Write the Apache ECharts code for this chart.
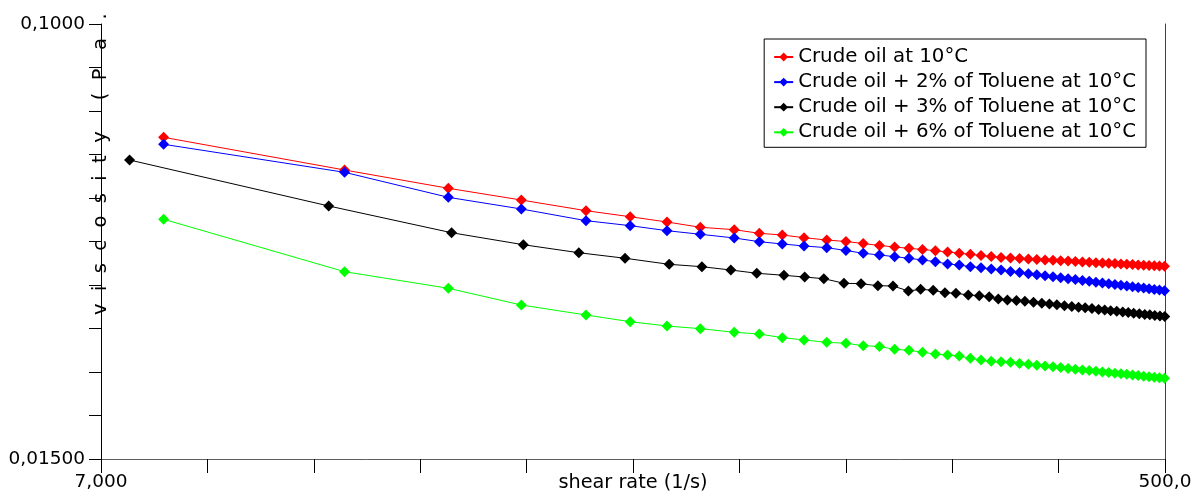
<!DOCTYPE html>
<html>
<head>
<meta charset="utf-8">
<script src="https://cdn.jsdelivr.net/npm/echarts@6/dist/echarts.min.js"></script>
<style>
html,body{margin:0;padding:0;background:#fff;}
#chart{width:1201px;height:495px;}
</style>
</head>
<body>
<div id="chart"></div>
<script>
// ---- data ----
const seriesNames = [
  'Crude oil at 10°C',
  'Crude oil + 2% of Toluene at 10°C',
  'Crude oil + 3% of Toluene at 10°C',
  'Crude oil + 6% of Toluene at 10°C'
];
const seriesColors = ['#ff0000', '#0000ff', '#000000', '#00ff00'];

// shear rate (1/s) for the 0%, 2% and 6% runs
const shearRate = [9, 18.6, 28.2, 37.8, 49, 58.5, 67.8, 77.5, 88.8, 98.2, 107.7, 117.5, 128.7,
  139, 149, 159, 169, 179, 189, 199, 209, 219, 229, 239, 249, 259, 269, 279, 289, 299,
  309, 319, 329, 339, 349, 359, 369, 379, 389, 399, 409, 419, 429, 439, 449, 459, 469, 479, 489, 499];

// shear rate (1/s) for the 3% run
const shearRate3 = [7.85, 17.45, 28.57, 38.1, 47.6, 57.3, 68.4, 78.0, 87.6, 97.2, 108.4, 117.8, 127.2,
  137.9, 147.7, 158.0, 167.9, 178.6, 187.6, 197.3, 206.8, 216.1, 227.1, 237.3, 247.0, 256.2, 265.7,
  275.5, 285, 295, 305, 314.5, 324, 334, 344, 353.5, 363, 373, 383, 392.5, 402, 412, 422, 431.5,
  441, 451, 461, 470.5, 480, 490, 499.5];

// viscosity (Pa.s)
const viscCrude = [0.06101, 0.05290, 0.04885, 0.04641, 0.04430, 0.04315, 0.04217, 0.04121, 0.04078, 0.04014,
  0.03984, 0.03938, 0.03898, 0.03873, 0.03839, 0.03806, 0.03781, 0.03760, 0.03740, 0.03721,
  0.03700, 0.03679, 0.03663, 0.03644, 0.03628, 0.03612, 0.03604, 0.03596, 0.03588, 0.03582,
  0.03574, 0.03568, 0.03562, 0.03556, 0.03549, 0.03543, 0.03539, 0.03532, 0.03526, 0.03522,
  0.03517, 0.03511, 0.03506, 0.03502, 0.03497, 0.03493, 0.03488, 0.03484, 0.03481, 0.03476];

const viscTol2 = [0.05918, 0.05237, 0.04696, 0.04463, 0.04241, 0.04150, 0.04060, 0.03997, 0.03933, 0.03870,
  0.03831, 0.03798, 0.03770, 0.03724, 0.03679, 0.03652, 0.03625, 0.03600, 0.03573, 0.03547,
  0.03511, 0.03496, 0.03470, 0.03455, 0.03435, 0.03420, 0.03398, 0.03382, 0.03366, 0.03349,
  0.03335, 0.03320, 0.03307, 0.03293, 0.03280, 0.03267, 0.03256, 0.03243, 0.03232, 0.03221,
  0.03211, 0.03199, 0.03190, 0.03180, 0.03170, 0.03161, 0.03151, 0.03143, 0.03133, 0.03125];

const viscTol3 = [0.05526, 0.04522, 0.04024, 0.03819, 0.03688, 0.03600, 0.03506, 0.03470, 0.03420, 0.03372,
  0.03342, 0.03317, 0.03293, 0.03228, 0.03222, 0.03194, 0.03190, 0.03121, 0.03144, 0.03131,
  0.03098, 0.03090, 0.03067, 0.03058, 0.03044, 0.03014, 0.03001, 0.02995, 0.02983, 0.02971,
  0.02960, 0.02948, 0.02938, 0.02927, 0.02917, 0.02908, 0.02900, 0.02891, 0.02880, 0.02873,
  0.02864, 0.02857, 0.02848, 0.02841, 0.02833, 0.02826, 0.02818, 0.02813, 0.02806, 0.02799, 0.02793];

const viscTol6 = [0.04267, 0.03395, 0.03158, 0.02936, 0.02811, 0.02730, 0.02679, 0.02648, 0.02607, 0.02587,
  0.02546, 0.02521, 0.02495, 0.02485, 0.02459, 0.02450, 0.02420, 0.02410, 0.02389, 0.02371,
  0.02361, 0.02351, 0.02327, 0.02310, 0.02297, 0.02293, 0.02287, 0.02276, 0.02267, 0.02258,
  0.02250, 0.02243, 0.02235, 0.02227, 0.02219, 0.02212, 0.02206, 0.02199, 0.02193, 0.02187,
  0.02181, 0.02175, 0.02170, 0.02164, 0.02158, 0.02153, 0.02148, 0.02143, 0.02137, 0.02133];

// axis ranges and labels
const xRange = [7, 500];
const yRange = [0.015, 0.1];
const xTickLabels = ['7,000', '500,0'];
const yTickLabels = ['0,01500', '0,1000'];
const xAxisTitle = 'shear rate (1/s)';
const yAxisTitle = 'v  i  s  c  o  s  i  t  y     (  P   a   .   s  )';

// ---- build ----
const xSets = [shearRate, shearRate, shearRate3, shearRate];
const ySets = [viscCrude, viscTol2, viscTol3, viscTol6];
const FONT = 'DejaVu Sans';

const series = seriesNames.map((name, i) => ({
  name: name,
  type: 'line',
  xAxisIndex: 0,
  yAxisIndex: 0,
  data: xSets[i].map((x, j) => [x, ySets[i][j]]),
  symbol: 'diamond',
  symbolSize: 11,
  showSymbol: true,
  clip: false,
  color: seriesColors[i],
  itemStyle: { color: seriesColors[i] },
  lineStyle: { color: seriesColors[i], width: 1 },
  emphasis: { disabled: true }
}));

const chart = echarts.init(document.getElementById('chart'), null, { renderer: 'canvas' });
chart.setOption({
  animation: false,
  backgroundColor: '#ffffff',
  grid: { left: 101, right: 36, top: 24, bottom: 36, containLabel: false, outerBoundsMode: 'none' },
  legend: {
    orient: 'vertical',
    right: 55,
    top: 39,
    data: seriesNames,
    backgroundColor: '#ffffff',
    borderColor: '#000000',
    borderWidth: 1,
    borderRadius: 0,
    padding: [8, 10, 5, 9],
    itemGap: 5.1,
    itemWidth: 19,
    itemHeight: 11,
    itemTextGap: 2,
    itemStyle: { borderWidth: 0 },
    textStyle: { fontFamily: FONT, fontSize: 19.8, color: '#000', lineHeight: 20 },
    selectedMode: false
  },
  xAxis: [
    {
      type: 'log', logBase: 10, min: xRange[0], max: xRange[1], position: 'bottom',
      axisLine: { show: false }, axisTick: { show: false }, axisLabel: { show: false },
      splitLine: { show: false }, minorTick: { show: false }, minorSplitLine: { show: false }
    },
    {
      type: 'value', min: 0, max: 10, interval: 1, position: 'bottom',
      name: xAxisTitle, nameLocation: 'middle', nameGap: 14,
      nameMoveOverlap: false,
      nameTextStyle: { fontFamily: FONT, fontSize: 19.3, color: '#000', verticalAlign: 'top' },
      axisLine: { show: true, onZero: false, lineStyle: { color: '#606060', width: 1 } },
      axisTick: { show: true, inside: false, length: 14, lineStyle: { color: '#000', width: 1 } },
      axisLabel: {
        show: true, margin: 14, showMinLabel: true, showMaxLabel: true,
        fontFamily: FONT, fontSize: 18.5, color: '#000', verticalAlign: 'top',
        formatter: v => (v === 0 ? xTickLabels[0] : (v === 10 ? xTickLabels[1] : ''))
      },
      splitLine: { show: false }
    }
  ],
  yAxis: [
    {
      type: 'log', logBase: 10, min: yRange[0], max: yRange[1], position: 'right',
      axisLine: { show: true, onZero: false, lineStyle: { color: '#404040', width: 1 } },
      axisTick: { show: false }, axisLabel: { show: false },
      splitLine: { show: false }, minorTick: { show: false }, minorSplitLine: { show: false }
    },
    {
      type: 'value', min: 0, max: 10, interval: 1, position: 'left',
      name: yAxisTitle, nameLocation: 'end', nameRotate: 90, nameGap: -291,
      nameMoveOverlap: false,
      nameTextStyle: { fontFamily: FONT, fontSize: 19.5, color: '#000' },
      axisLine: { show: true, onZero: false, lineStyle: { color: '#000', width: 1 } },
      axisTick: { show: true, inside: false, length: 12, lineStyle: { color: '#000', width: 1 } },
      axisLabel: {
        show: true, margin: 16, showMinLabel: true, showMaxLabel: true,
        fontFamily: FONT, fontSize: 18.5, color: '#000',
        formatter: v => (v === 0 ? yTickLabels[0] : (v === 10 ? yTickLabels[1] : ''))
      },
      splitLine: { show: false }
    }
  ],
  series: series
});
</script>
</body>
</html>
